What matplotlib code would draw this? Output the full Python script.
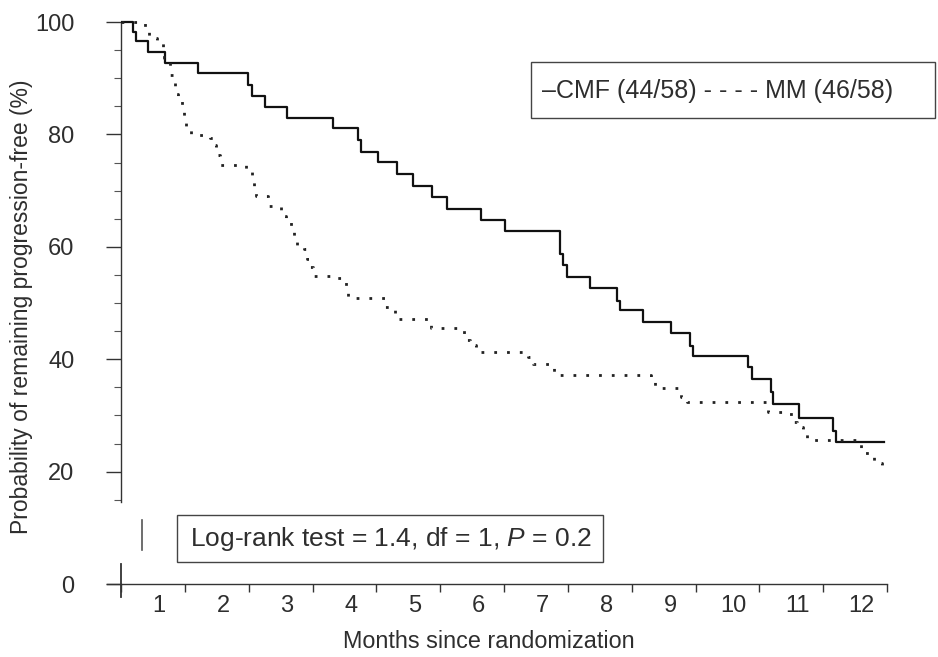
import matplotlib
matplotlib.use("Agg")
import matplotlib.pyplot as plt
from matplotlib.patches import Rectangle

plt.rcParams['font.family'] = ['Liberation Sans', 'DejaVu Sans']
plt.rcParams['mathtext.fontset'] = 'custom'
plt.rcParams['mathtext.it'] = 'Liberation Sans:italic'
plt.rcParams['mathtext.rm'] = 'Liberation Sans'

# ---- data (months, % progression-free) ----
cmf_t = [0.40, 0.59, 0.64, 0.83, 1.09, 1.60, 2.39, 2.46, 2.66, 3.00, 3.72,
         4.11, 4.16, 4.43, 4.73, 4.98, 5.27, 5.51, 6.04, 6.41, 7.28, 7.32,
         7.38, 7.74, 8.17, 8.22, 8.57, 9.01, 9.31, 9.36, 10.23, 10.28,
         10.58, 10.62, 11.02, 11.55, 11.60, 12.36]
cmf_s = [100, 98.2, 96.7, 94.7, 92.8, 91.0, 88.8, 86.9, 84.9, 83.0, 81.1,
         79.0, 76.9, 75.1, 72.9, 70.9, 68.9, 66.8, 64.7, 62.8, 58.8, 56.7,
         54.6, 52.6, 50.4, 48.7, 46.6, 44.6, 42.4, 40.5, 38.6, 36.5,
         34.1, 32.0, 29.6, 27.3, 25.2, 25.2]

mm_t = [0.40, 0.78, 0.84, 0.97, 1.06, 1.08, 1.16, 1.22, 1.24, 1.30, 1.36,
        1.38, 1.42, 1.49, 1.80, 1.84, 1.89, 1.95, 2.36, 2.46, 2.49, 2.52,
        2.71, 2.91, 2.99, 3.06, 3.11, 3.16, 3.27, 3.32, 3.36, 3.41, 3.72,
        3.88, 3.93, 3.96, 4.54, 4.66, 4.69, 5.26, 5.77, 5.87, 5.96, 6.77,
        6.85, 7.18, 8.70, 8.76, 9.17, 9.26, 10.53, 10.84, 10.92, 10.99,
        11.09, 11.14, 12.00, 12.20, 12.32, 12.35]
mm_s = [100, 98.5, 97.2, 96.4, 95.6, 93.6, 90.6, 89.1, 87.2, 85.9, 84.7,
        82.9, 81.3, 79.9, 79.4, 78.1, 76.3, 74.6, 73.3, 72.5, 70.8, 69.0,
        67.3, 65.5, 64.4, 63.3, 61.7, 60.0, 59.6, 57.8, 56.4, 54.8, 54.4,
        53.9, 52.7, 50.9, 49.3, 48.8, 47.2, 45.6, 43.4, 42.5, 41.3, 40.4,
        39.1, 37.2, 35.9, 34.9, 33.3, 32.4, 30.6, 30.2, 28.8, 27.9,
        27.6, 25.6, 23.3, 21.5, 21.0, 21.0]

month_labels = [str(m) for m in range(1, 13)]
month_pos = list(range(1, 13))
xtick_pos = [k + 0.4 for k in range(0, 13)]
y_major = [0, 20, 40, 60, 80, 100]
y_minor = [15, 25, 30, 35, 45, 50, 55, 65, 70, 75, 85, 90, 95]

legend_text = "\u2013CMF (44/58) - - - - MM (46/58)"
test_text = "Log-rank test = 1.4, df = 1, $P$ = 0.2"

TXT = '#2e2e2e'

W, H = 938, 657
fig = plt.figure(figsize=(W / 100, H / 100), dpi=100)
ax = fig.add_axes([121 / W, 1 - 600.9 / H, 766 / W, (600.9 - 10.8) / H])
ax.set_xlim(0.4, 12.4)
ax.set_ylim(-3, 102)

# curves
ax.step(cmf_t, cmf_s, where='post', color='#111111', lw=1.6, zorder=3)
ax.step(mm_t, mm_s, where='post', color='#222222', lw=2.0,
        linestyle=(0, (1, 3.6)), zorder=3)

# axes styling
for s in ['top', 'right']:
    ax.spines[s].set_visible(False)
ax.spines['left'].set_bounds(14.6, 100)
ax.spines['left'].set_color('#333333')
ax.spines['left'].set_linewidth(1.0)
ax.spines['bottom'].set_position(('data', 0))
ax.spines['bottom'].set_bounds(0.4, 12.4)
ax.spines['bottom'].set_color('#333333')
ax.spines['bottom'].set_linewidth(1.0)

# broken y-axis lower segment and left extension of x-axis
ax.plot([0.4, 0.4], [-2.3, 3.6], color='#333333', lw=1.3, clip_on=False)
ax.plot([0.18, 0.4], [0, 0], color='#333333', lw=1.0, clip_on=False)
# small stray mark as in reference
ax.plot([0.73, 0.73], [6.0, 11.4], color='#555555', lw=1.2, clip_on=False)

ax.set_yticks(y_major)
ax.set_yticklabels([str(v) for v in y_major])
ax.set_yticks(y_minor, minor=True)
ax.tick_params(axis='y', which='major', direction='out', length=10.5,
               width=1.0, colors='#333333', labelcolor=TXT, labelsize=17,
               pad=23)
ax.tick_params(axis='y', which='minor', direction='out', length=5,
               width=0.8, colors='#555555')

ax.set_xticks(xtick_pos)
ax.set_xticklabels([''] * len(xtick_pos))
ax.set_xticks(month_pos, minor=True)
ax.set_xticklabels(month_labels, minor=True)
ax.tick_params(axis='x', which='major', direction='out', length=6,
               width=1.0, colors='#333333')
ax.tick_params(axis='x', which='minor', length=0, labelsize=17,
               labelcolor=TXT, pad=8)

ax.set_xlabel('Months since randomization', fontsize=16.8, color=TXT)
ax.xaxis.set_label_coords(489 / W, 1 - 630 / H, transform=fig.transFigure)
ax.set_ylabel('Probability of remaining progression-free (%)',
              fontsize=16.5, color=TXT)
ax.yaxis.set_label_coords(33 / W, 1 - 307 / H, transform=fig.transFigure)

# legend box
fig.add_artist(Rectangle((531 / W, 1 - 118 / H), (935 - 531) / W, 56 / H,
                         transform=fig.transFigure, fill=False,
                         edgecolor='#444444', lw=1.0))
fig.text(542 / W, 1 - 91 / H, legend_text, fontsize=18, color=TXT,
         ha='left', va='center')

# log-rank box
fig.add_artist(Rectangle((177 / W, 1 - 562 / H), (603 - 177) / W, 47 / H,
                         transform=fig.transFigure, fill=False,
                         edgecolor='#444444', lw=1.0))
fig.text(190 / W, 1 - 539 / H, test_text, fontsize=19, color=TXT,
         ha='left', va='center')

fig.savefig('out.png', dpi=100)
